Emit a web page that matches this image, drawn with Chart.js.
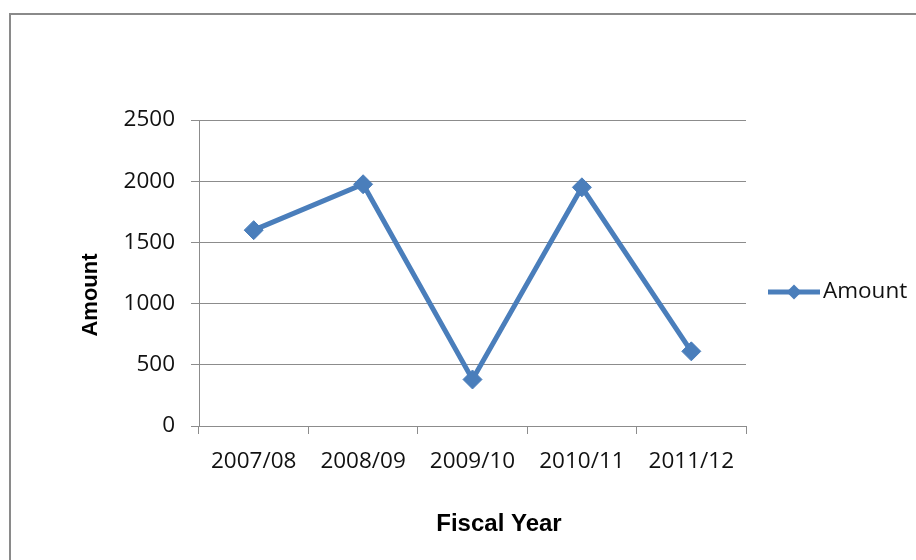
<!DOCTYPE html>
<html>
<head>
<meta charset="utf-8">
<script src="https://cdn.jsdelivr.net/npm/chart.js@4/dist/chart.umd.min.js"></script>
<style>
  html, body { margin: 0; padding: 0; background: #ffffff; }
  #wrap { position: relative; width: 916px; height: 560px; overflow: hidden; }
  #frame { position: absolute; left: 9px; top: 13px; width: 940px; height: 600px;
           border: 2px solid #8a8a8a; box-sizing: border-box; }
  canvas { position: absolute; left: 0; top: 0; }
</style>
</head>
<body>
<div id="wrap">
  <div id="frame"></div>
  <canvas id="chart" width="916" height="560"></canvas>
</div>
<script>
// Fiscal-year amounts
const fiscalYears = ['2007/08', '2008/09', '2009/10', '2010/11', '2011/12'];
const amounts = [1600, 1975, 380, 1950, 610];
const seriesName = 'Amount';
const yTicks = [0, 500, 1000, 1500, 2000, 2500];
const xTitle = 'Fiscal Year';
const yTitle = 'Amount';

const BLUE = '#4a7ebb';
const GRID = '#8c8c8c';
const TEXT = '#111111';
const TICK_FONT = { family: '"Open Sans", sans-serif', size: 22.5 };

// Axis titles and the legend entry, drawn on the canvas after the chart
const annotations = {
  id: 'annotations',
  afterDraw(chart) {
    const ctx = chart.ctx;
    ctx.save();
    ctx.fillStyle = '#000000';

    // x-axis title
    ctx.font = 'bold 24px "Liberation Sans", Arial, sans-serif';
    ctx.textAlign = 'center';
    ctx.textBaseline = 'alphabetic';
    ctx.fillText(xTitle, 499, 530.5);

    // y-axis title, rotated
    ctx.save();
    ctx.translate(96.5, 295);
    ctx.rotate(-Math.PI / 2);
    ctx.font = 'bold 22px "Liberation Sans", Arial, sans-serif';
    ctx.fillText(yTitle, 0, 0);
    ctx.restore();

    // legend: line with diamond marker, then series name
    const ds = chart.data.datasets[0];
    const ly = 292;
    ctx.strokeStyle = ds.borderColor;
    ctx.lineWidth = 5;
    ctx.beginPath();
    ctx.moveTo(768, ly);
    ctx.lineTo(820, ly);
    ctx.stroke();
    ctx.fillStyle = ds.pointBackgroundColor;
    ctx.beginPath();
    const r = 7.5, cx = 794;
    ctx.moveTo(cx, ly - r);
    ctx.lineTo(cx + r, ly);
    ctx.lineTo(cx, ly + r);
    ctx.lineTo(cx - r, ly);
    ctx.closePath();
    ctx.fill();

    ctx.fillStyle = TEXT;
    ctx.font = '22.5px "Open Sans", sans-serif';
    ctx.textAlign = 'left';
    ctx.textBaseline = 'middle';
    ctx.fillText(ds.label, 823, ly);
    ctx.restore();
  }
};

new Chart(document.getElementById('chart'), {
  type: 'line',
  data: {
    labels: fiscalYears,
    datasets: [{
      label: seriesName,
      data: amounts,
      borderColor: BLUE,
      backgroundColor: BLUE,
      borderWidth: 5,
      tension: 0,
      pointStyle: 'rectRot',
      pointRadius: 9.5,
      pointBorderWidth: 1,
      pointBackgroundColor: BLUE,
      pointBorderColor: BLUE,
      fill: false
    }]
  },
  options: {
    responsive: false,
    animation: false,
    devicePixelRatio: 1,
    layout: { padding: { left: 0, top: 120, right: 170, bottom: 0 } },
    plugins: {
      legend: { display: false },
      tooltip: { enabled: false }
    },
    scales: {
      x: {
        type: 'category',
        offset: true,
        grid: {
          offset: true,
          drawOnChartArea: false,
          drawTicks: true,
          tickLength: 8,
          color: GRID,
          lineWidth: 1
        },
        border: { display: true, color: GRID, width: 1 },
        ticks: { color: TEXT, font: TICK_FONT, padding: 14, maxRotation: 0, autoSkip: false },
        afterFit(scale) { scale.height = 134; }
      },
      y: {
        min: 0,
        max: 2500,
        afterBuildTicks(scale) { scale.ticks = yTicks.map(v => ({ value: v })); },
        grid: {
          color: GRID,
          lineWidth: 1,
          drawTicks: true,
          tickLength: 8
        },
        border: { display: true, color: GRID, width: 1 },
        ticks: { color: TEXT, font: TICK_FONT, padding: 16, callback: v => String(v) },
        afterFit(scale) { scale.width = 199; }
      }
    }
  },
  plugins: [annotations]
});
</script>
</body>
</html>
